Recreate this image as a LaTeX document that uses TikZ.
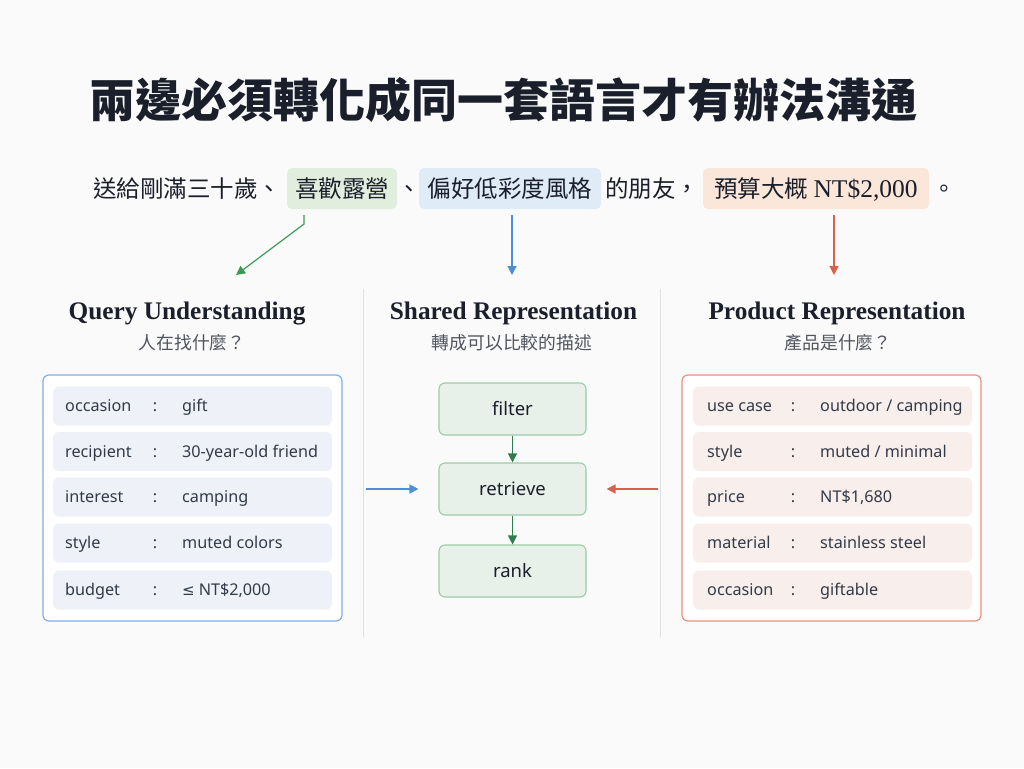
\documentclass[tikz,border=0pt]{standalone}
\usepackage{fontspec}
\usetikzlibrary{arrows.meta}
\newfontfamily\cjk{Noto Sans CJK TC}
\newfontfamily\serifL{Liberation Serif}
\newfontfamily\sansN{Noto Sans}
\newfontfamily\dejavu{DejaVu Sans}
\definecolor{bgc}{HTML}{FAFAFA}
\definecolor{ink}{HTML}{1A1F2B}
\definecolor{subink}{HTML}{4F545E}
\definecolor{rowink}{HTML}{333A48}
\definecolor{hlgreen}{HTML}{E2EEDD}
\definecolor{hlblue}{HTML}{E0EBF8}
\definecolor{hlorange}{HTML}{FBE7DA}
\definecolor{lborder}{HTML}{7EB0E6}
\definecolor{rborder}{HTML}{EC8E80}
\definecolor{lrowc}{HTML}{EEF2F8}
\definecolor{rrowc}{HTML}{F8EFEC}
\definecolor{divc}{HTML}{E1E1E4}
\definecolor{mfill}{HTML}{E7F1E9}
\definecolor{mborder}{HTML}{9CCBA7}
\definecolor{agreen}{HTML}{2F7D4E}
\definecolor{tgreen}{HTML}{3E9A52}
\definecolor{ablue}{HTML}{4A8FD8}
\definecolor{ared}{HTML}{D9604C}
\newcommand\myLrow[4]{%
  \node[lrowbox] (lr#1) at (192.5,#2) {};
  \node[rowtext] (lk#1) at (65,{#2+5.5}) {#3};
  \node[rowcolon] (lc#1) at (155,{#2+5.5}) {:};
  \node[rowtext] (lv#1) at (182,{#2+5.5}) {#4};
}
\newcommand\myRrow[4]{%
  \node[rrowbox] (rr#1) at (832.5,#2) {};
  \node[rowtext] (rk#1) at (707,{#2+5.5}) {#3};
  \node[rowcolon] (rc#1) at (793,{#2+5.5}) {:};
  \node[rowtext] (rv#1) at (820,{#2+5.5}) {#4};
}
\begin{document}
\begin{tikzpicture}[x=1pt,y=-1pt,
  sent/.style={font=\cjk\fontsize{23.5}{26}\selectfont, text=ink, inner sep=0pt, text height=21pt, text depth=3pt, anchor=west},
  hlbox/.style={font=\cjk\fontsize{23.5}{26}\selectfont, text=ink, inner sep=0pt, text height=21pt, text depth=3pt, minimum height=41pt, rounded corners=5pt},
  header/.style={font=\serifL\bfseries\fontsize{25.3}{28}\selectfont, text=ink, anchor=base, inner sep=0pt},
  subheader/.style={font=\cjk\fontsize{17.8}{20}\selectfont, text=subink, inner sep=0pt},
  lrowbox/.style={fill=lrowc, rounded corners=6pt, minimum width=279pt, minimum height=39pt, inner sep=0pt},
  rrowbox/.style={fill=rrowc, rounded corners=6pt, minimum width=279pt, minimum height=39pt, inner sep=0pt},
  rowtext/.style={font=\sansN\fontsize{16.2}{18}\selectfont, text=rowink, anchor=base west, inner sep=0pt},
  rowcolon/.style={font=\sansN\fontsize{16.2}{18}\selectfont, text=rowink, anchor=base, inner sep=0pt},
  stepbox/.style={draw=mborder, line width=1.1pt, fill=mfill, rounded corners=6pt, minimum width=147pt, minimum height=52pt, font=\sansN\fontsize{18.5}{20}\selectfont, text=ink},
  tip/.style={-{Triangle[length=9pt,width=9pt]}},
]
\useasboundingbox (0,0) rectangle (1024,768);
\fill[bgc] (0,0) rectangle (1024,768);

% title
\node[font=\cjk\bfseries\fontsize{46}{50}\selectfont, text=ink, inner sep=0pt, text height=40.5pt, text depth=5.5pt] (title) at (503.5,100) {兩邊必須轉化成同一套語言才有辦法溝通};

% sentence
\node[sent] (s1) at (93,188.5) {送給剛滿三十歲、};
\node[hlbox, fill=hlgreen, minimum width=110pt] (hl1) at (342,188.5) {喜歡露營};
\node[sent] (s2) at (397,188.5) {、};
\node[hlbox, fill=hlblue, minimum width=182pt] (hl2) at (510,188.5) {偏好低彩度風格};
\node[sent] (s3) at (605,188.5) {的朋友，};
\node[hlbox, fill=hlorange, minimum width=226pt] (hl3) at (816,188.5) {預算大概 {\serifL\fontsize{25.5}{28}\selectfont NT\$2,000}};
\node[sent] (s4) at (932,188.5) {。};

% top arrows
\coordinate (gs) at (304,215);
\coordinate (gm) at (304,224);
\coordinate (ge) at (236,275);
\coordinate (bs) at (512,215);
\coordinate (be) at (512,275);
\coordinate (rs) at (834,215);
\coordinate (re) at (834,275);
\draw[tip, tgreen, line width=1.2pt] (gs) -- (gm) -- (ge);
\draw[tip, ablue, line width=1.2pt] (bs) -- (be);
\draw[tip, ared, line width=1.2pt] (rs) -- (re);

% dividers
\draw[divc, line width=1pt] (363,289) -- (363,638);
\draw[divc, line width=1pt] (660,289) -- (660,638);

% headers
\node[header] (h1) at (187,319) {Query Understanding};
\node[header] (h2) at (513.5,319) {Shared Representation};
\node[header] (h3) at (837,319) {Product Representation};
\node[subheader] (sh1) at (192,343) {人在找什麼？};
\node[subheader] (sh2) at (512,343) {轉成可以比較的描述};
\node[subheader] (sh3) at (838,343) {產品是什麼？};

% left box
\node[draw=lborder, line width=1.2pt, fill=white, rounded corners=6pt, minimum width=299pt, minimum height=246pt] (lbox) at (192.5,498) {};
\myLrow{1}{406}{occasion}{gift}
\myLrow{2}{451.5}{recipient}{30-year-old friend}
\myLrow{3}{497}{interest}{camping}
\myLrow{4}{543}{style}{muted colors}
\myLrow{5}{590}{budget}{{\dejavu\fontsize{15}{18}\selectfont ≤}\hspace{4pt}NT\$2,000}

% right box
\node[draw=rborder, line width=1.2pt, fill=white, rounded corners=6pt, minimum width=299pt, minimum height=246pt] (rbox) at (831.5,498) {};
\myRrow{1}{406}{use case}{outdoor / camping}
\myRrow{2}{451.5}{style}{muted / minimal}
\myRrow{3}{497}{price}{NT\$1,680}
\myRrow{4}{543}{material}{stainless steel}
\myRrow{5}{590}{occasion}{giftable}

% middle pipeline
\node[stepbox] (filter) at (512.5,409) {filter};
\node[stepbox] (retrieve) at (512.5,489) {retrieve};
\node[stepbox] (rank) at (512.5,571) {rank};
\draw[tip, agreen, line width=1.2pt] (filter) -- (retrieve);
\draw[tip, agreen, line width=1.2pt] (retrieve) -- (rank);

\coordinate (ls) at (366,489);
\coordinate (rsA) at (658,489);
\draw[tip, ablue, line width=1.2pt, shorten >=20pt] (ls) -- (retrieve.west);
\draw[tip, ared, line width=1.2pt, shorten >=20pt] (rsA) -- (retrieve.east);
\end{tikzpicture}
\end{document}
